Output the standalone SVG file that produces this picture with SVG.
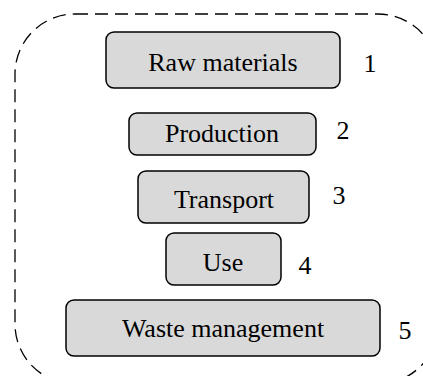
<svg xmlns="http://www.w3.org/2000/svg" width="423" height="376" viewBox="0 0 423 376">
<style>
.box{fill:#d9d9d9;stroke:#000;stroke-width:1.5}
.lbl{font-family:'Liberation Serif','DejaVu Serif','Times New Roman',serif;font-size:26px;fill:#000;text-anchor:middle}
.frame{fill:none;stroke:#000;stroke-width:1.3;stroke-dasharray:13 7}
</style>
<rect width="423" height="376" fill="#fff"/>
<g id="frame">
<rect class="frame" x="15" y="14" width="423" height="370" rx="60" ry="60"/>
</g>
<g id="connectors"></g>
<g id="n1">
<rect class="box" x="106" y="32" width="234" height="56" rx="8"/>
<text class="lbl" x="223" y="71">Raw materials</text>
<text class="lbl" x="370" y="72">1</text>
</g>
<g id="n2">
<rect class="box" x="129" y="113" width="187" height="42" rx="8"/>
<text class="lbl" x="222" y="142">Production</text>
<text class="lbl" x="343" y="139">2</text>
</g>
<g id="n3">
<rect class="box" x="138" y="171" width="171" height="52" rx="8"/>
<text class="lbl" x="224" y="208">Transport</text>
<text class="lbl" x="339" y="204">3</text>
</g>
<g id="n4">
<rect class="box" x="166" y="233" width="115" height="52" rx="8"/>
<text class="lbl" x="223" y="271">Use</text>
<text class="lbl" x="305" y="274">4</text>
</g>
<g id="n5">
<rect class="box" x="66" y="300" width="314" height="56" rx="8"/>
<text class="lbl" x="223" y="337">Waste management</text>
<text class="lbl" x="405" y="339">5</text>
</g>
</svg>
